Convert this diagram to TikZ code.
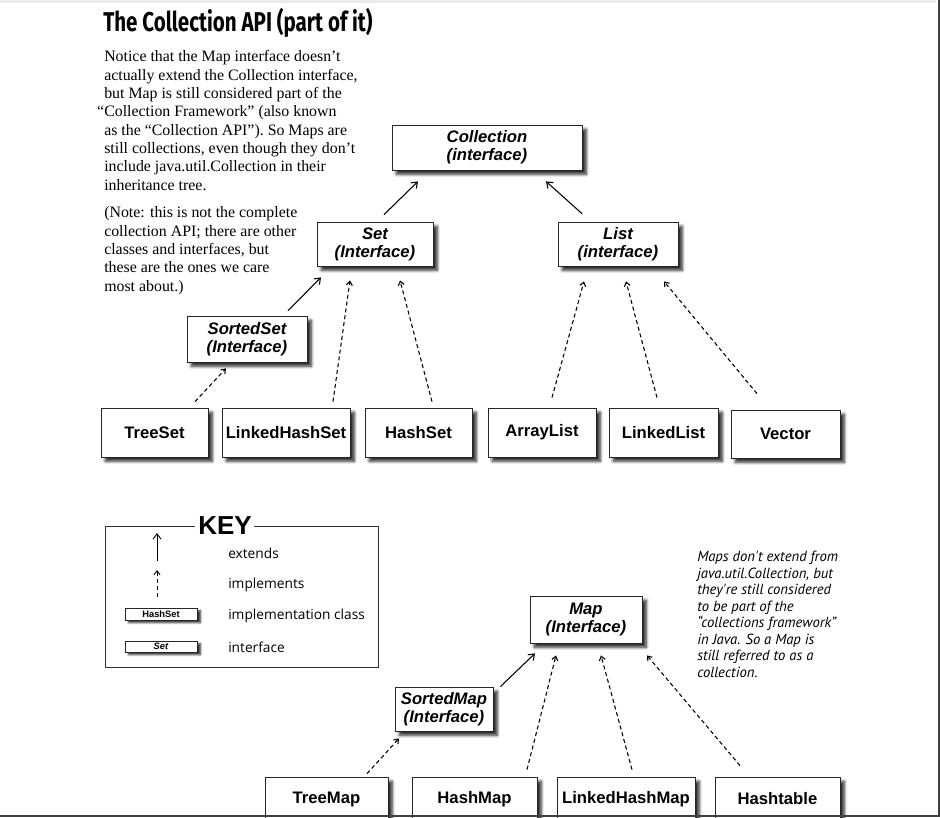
\documentclass[tikz,border=0pt]{standalone}
\usepackage{fontspec}
\setmainfont{Liberation Serif}
\newfontfamily\boxfont{Liberation Sans}
\newfontfamily\keyfont{Open Sans}
\newfontfamily\titlefont{Fira Sans}
\newfontfamily\handfont{PT Sans}
\usetikzlibrary{arrows.meta,calc,shadows.blur}
\begin{document}
\begin{tikzpicture}[x=0.75pt,y=-0.75pt,
  sz/.style 2 args={minimum width=#1*0.75pt, minimum height=#2*0.75pt},
  cls/.style={draw=black!85, line width=0.6pt, fill=white, inner sep=0pt, align=center,
     font=\boxfont\bfseries\fontsize{12.5}{13.5}\selectfont,
     blur shadow={shadow xshift=3.2pt, shadow yshift=-3.2pt, shadow blur radius=2.2pt, shadow blur steps=6, shadow opacity=85}},
  ifc/.style={cls, font=\boxfont\bfseries\itshape\fontsize{12.5}{13.5}\selectfont},
  mini/.style={draw=black!85, line width=0.5pt, fill=white, inner sep=0pt,
     font=\boxfont\bfseries\fontsize{7}{8}\selectfont,
     blur shadow={shadow xshift=2.6pt, shadow yshift=-2pt, shadow blur radius=1.5pt, shadow blur steps=5, shadow opacity=85}},
  ext/.style={line width=0.8pt, -{Straight Barb[length=4pt,width=6pt]}},
  impl/.style={line width=0.8pt, dash pattern=on 3pt off 2.2pt, -{Straight Barb[length=3pt,width=4.5pt]}},
  keytext/.style={anchor=west, inner sep=0pt, font=\keyfont\fontsize{10.3}{12}\selectfont},
]
\useasboundingbox (0,0) rectangle (940,818);
\clip (0,0) rectangle (940,818);
\fill[black!8] (0,0) rectangle (936,3);

% title
\node[anchor=base west, inner sep=0pt] (title) at (103,31)
  {\resizebox{202pt}{17.5pt}{\titlefont\bfseries The Collection API (part of it)}};

% intro texts
\node[anchor=north west, align=left, inner sep=0pt, font=\fontsize{11.9}{13.75}\selectfont] (intro) at (104,50.5)
{Notice that the Map interface doesn't\\
actually extend the Collection interface,\\
but Map is still considered part of the\\
\llap{“}Collection Framework” (also known\\
as the “Collection API”). So Maps are\\
still collections, even though they don't\\
include java.util.Collection in their\\
inheritance tree.};
\node[anchor=north west, align=left, inner sep=0pt, font=\fontsize{11.9}{13.75}\selectfont] (note) at (104,206.5)
{(Note: this is not the complete\\
collection API; there are other\\
classes and interfaces, but\\
these are the ones we care\\
most about.)};

% collection hierarchy
\node[ifc, sz={190}{45}] (coll) at (487,147.5) {Collection\\(interface)};
\node[ifc, sz={116}{44}] (set) at (375,244) {Set\\(Interface)};
\node[ifc, sz={120}{44}] (list) at (618,244) {List\\(interface)};
\node[ifc, sz={120}{46}] (sset) at (247,339) {SortedSet\\(Interface)};
\node[cls, sz={107}{49}] (treeset) at (154.5,432.5) {TreeSet};
\node[cls, sz={128}{49}] (lhset) at (286,432.5) {LinkedHashSet};
\node[cls, sz={107}{49}] (hashset) at (418.5,432.5) {HashSet};
\node[cls, sz={108}{49}] (arraylist) at (542,432.5) {ArrayList};
\node[cls, sz={109}{49}] (linkedlist) at (663.5,432.5) {LinkedList};
\node[cls, sz={109}{48}] (vector) at (785.5,434) {Vector};

\draw[ext] ($(set.north)+(9,-7)$) -- ($(coll.south)+(-69,11)$);
\draw[ext] ($(list.north)+(-36,-8)$) -- ($(coll.south)+(59,11)$);
\draw[ext] ($(sset.north)+(41,-5)$) -- ($(set.south)+(-54,11)$);
\draw[impl] ($(lhset.north)+(47,-6)$) -- ($(set.south)+(-25,14)$);
\draw[impl] ($(hashset.north)+(13.5,-6)$) -- ($(set.south)+(25,14)$);
\draw[impl] ($(treeset.north)+(40.5,-6)$) -- ($(sset.south)+(-21,6)$);
\draw[impl] ($(arraylist.north)+(10,-10)$) -- ($(list.south)+(-34,15)$);
\draw[impl] ($(linkedlist.north)+(-6.5,-10)$) -- ($(list.south)+(8,15)$);
\draw[impl] ($(vector.north)+(-28.5,-16)$) -- ($(list.south)+(46,15)$);

% key
\draw[black!80, line width=0.6pt] (195,526) -- (105,526) -- (105,667) -- (378,667) -- (378,526) -- (254,526);
\node[inner sep=0pt, font=\boxfont\bfseries\fontsize{19.5}{20}\selectfont] (keytitle) at (225,526) {KEY};
\coordinate (k1a) at (157,561);
\coordinate (k1b) at (157,533);
\coordinate (k2a) at (157,597);
\coordinate (k2b) at (157,570);
\draw[ext, line width=0.7pt] (k1a) -- (k1b);
\draw[impl, line width=0.7pt] (k2a) -- (k2b);
\node[keytext] (kext) at (228,553) {extends};
\node[keytext] (kimpl) at (228,585) {implements};
\node[mini, sz={72}{12}] (kcls) at (161,614) {HashSet};
\node[keytext] (kclstext) at (228,616) {implementation class};
\node[mini, sz={72}{11}, font=\boxfont\bfseries\itshape\fontsize{7}{8}\selectfont] (kifc) at (161,646.5) {Set};
\node[keytext] (kifctext) at (228,647) {interface};

% handwritten note
\node[anchor=north west, align=left, inner sep=0pt, font=\handfont\itshape\fontsize{11}{12.4}\selectfont] (hand) at (697,551)
{Maps don't extend from\\
java.util.Collection, but\\
they're still considered\\
to be part of the\\
“collections framework”\\
in Java. So a Map is\\
still referred to as a\\
collection.};

% map hierarchy
\node[ifc, sz={112}{47}] (map) at (586,619.5) {Map\\(Interface)};
\node[ifc, sz={98}{44}] (smap) at (444,709) {SortedMap\\(Interface)};
\node[cls, sz={123}{44}] (treemap) at (326.5,799) {TreeMap};
\node[cls, sz={125}{44}] (hashmap) at (474.5,799) {HashMap};
\node[cls, sz={138}{44}] (lhmap) at (626,799) {LinkedHashMap};
\node[cls, sz={125}{44}] (hashtable) at (777.5,799) {Hashtable};

\draw[ext] ($(smap.north east)+(7,0)$) -- ($(map.south)+(-51,10)$);
\draw[impl] ($(hashmap.north)+(52.5,-7)$) -- ($(map.south)+(-30,12)$);
\draw[impl] ($(lhmap.north)+(6,-7)$) -- ($(map.south)+(15,12)$);
\draw[impl] ($(hashtable.north)+(-37.5,-11)$) -- ($(map.south)+(61,12)$);
\draw[impl] ($(treemap.north)+(40.5,-3)$) -- ($(smap.south)+(-45,7)$);

% frame
\draw[black!75, line width=1.5pt] (0,816) -- (938.5,816) -- (938.5,0);
\end{tikzpicture}
\end{document}
